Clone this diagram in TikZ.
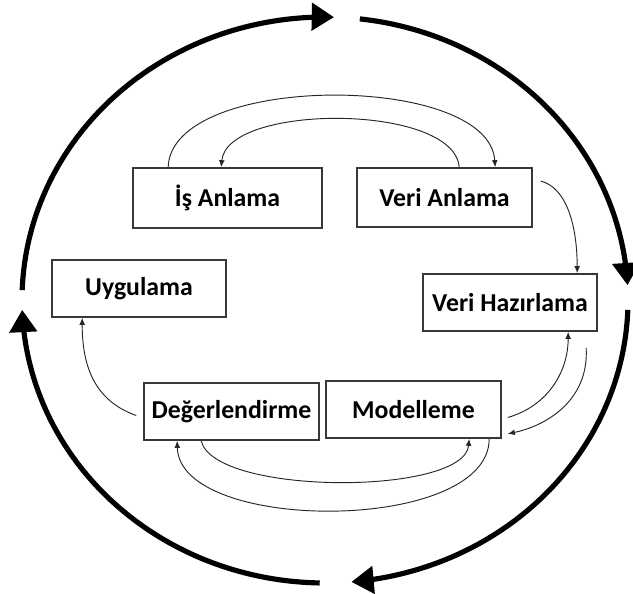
\documentclass[tikz,border=0pt]{standalone}
\usepackage{fontspec}
\setmainfont{Carlito}
\usetikzlibrary{arrows.meta,calc}
\begin{document}
\begin{tikzpicture}[x=0.03cm,y=-0.03cm,
  stage/.style={draw=black!78, line width=1.4pt, fill=white, inner sep=0pt,
    minimum height=1.71cm, minimum width=5.25cm,
    font=\fontsize{22}{26}\selectfont\bfseries},
  cyclearc/.style={line width=4.4pt, -{Triangle[length=19pt,width=23pt]}},
  flow/.style={draw=black!85, line width=0.8pt, -{Latex[length=6pt,width=5pt]}}]
\clip (0,0) rectangle (633,594);

% CRISP-DM stages
\node[stage, minimum width=5.67cm, minimum height=1.8cm] (is) at (227.5,198) {İş Anlama};
\node[stage, minimum height=1.77cm] (va) at (444.5,197.5) {Veri Anlama};
\node[stage, minimum width=5.22cm] (uy) at (139,288.5) {Uygulama};
\node[stage, minimum width=5.22cm] (vh) at (510,302.5) {Veri Hazırlama};
\node[stage] (de) at (231.5,411.5) {Değerlendirme};
\node[stage] (mo) at (413.5,409.5) {Modelleme};

% outer cycle
\draw[cyclearc, domain=178:88.3, samples=80, variable=\t]
  plot ({325+303*cos(\t)}, {300-283*sin(\t)});
\draw[cyclearc, domain=83.4:3, samples=80, variable=\t]
  plot ({325+303*cos(\t)}, {300-283*sin(\t)});
\draw[cyclearc, domain=-2:-85, samples=80, variable=\t]
  plot ({325+303*cos(\t)}, {300-283*sin(\t)});
\draw[cyclearc, domain=-91:-178, samples=80, variable=\t]
  plot ({325+303*cos(\t)}, {300-283*sin(\t)});

% transitions between stages
\draw[flow] ($(is.north west)+(36,0)$) .. controls +(3,-95) and +(-6,-95) .. ($(va.north west)+(139,0)$);
\draw[flow] ($(va.north west)+(103,0)$) .. controls +(-5,-64) and +(6,-64) .. ($(is.north west)+(89,0)$);
\draw[flow] ($(va.north east)+(8,14)$) .. controls +(25,6) and +(0,-49) .. ($(vh.north west)+(155,0)$);
\draw[flow] ($(mo.east)+(6,8)$) .. controls +(41,-12) and +(0,39) .. ($(vh.south west)+(146,0)$);
\draw[flow] ($(vh.south west)+(164,16)$) .. controls +(3,53) and +(38,-8) .. ($(mo.south east)+(6,-5)$);
\draw[flow] ($(de.south west)+(58,0)$) .. controls +(13,55) and +(-5,57) .. ($(mo.south west)+(144,0)$);
\draw[flow] ($(mo.south west)+(164,0)$) .. controls +(0,95) and +(2,93) .. ($(de.south west)+(34,0)$);
\draw[flow] ($(de.west)+(-7,4)$) .. controls +(-42,-15) and +(0,48) .. ($(uy.south west)+(31,0)$);
\end{tikzpicture}
\end{document}
